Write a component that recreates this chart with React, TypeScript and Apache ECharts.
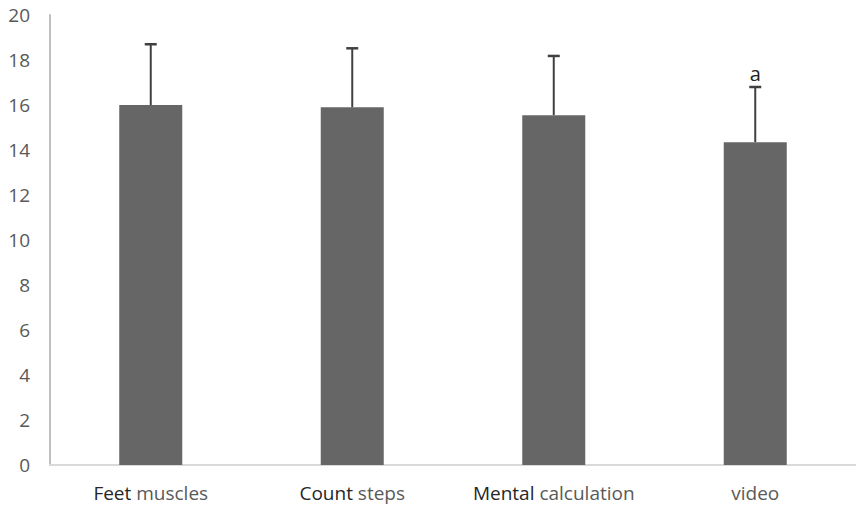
import React, { useEffect, useRef } from "react";
import * as echarts from "echarts";

const categories = ["Feet muscles", "Count steps", "Mental calculation", "video"];
const means = [16.0, 15.9, 15.55, 14.35];
const errorTops = [18.7, 18.52, 18.18, 16.8];
const annotations = ["", "", "", "a"];
const yTicks = { min: 0, max: 20, interval: 2 };

export default function App() {
  const ref = useRef<HTMLDivElement>(null);
  useEffect(() => {
    if (!ref.current) return;
    const chart = echarts.init(ref.current, null, { renderer: "svg" });
    const font = "'Open Sans', 'Noto Sans', sans-serif";
    chart.setOption({
      animation: false,
      grid: { left: 50, right: 0, top: 15, bottom: 42, containLabel: false },
      xAxis: {
        type: "category",
        data: categories,
        axisLine: { lineStyle: { color: "#d9d9d9", width: 2 } },
        axisTick: { show: false },
        axisLabel: {
          interval: 0,
          margin: 18,
          fontSize: 19,
          color: "#595959",
          fontFamily: font,
          formatter: (v: string) => {
            const i = v.indexOf(" ");
            if (i < 0) return "{n|" + v + "}";
            return "{b|" + v.slice(0, i) + "}{n|" + v.slice(i) + "}";
          },
          rich: {
            b: { fontSize: 19, color: "#262626", fontFamily: font },
            n: { fontSize: 19, color: "#595959", fontFamily: font },
          },
        },
      },
      yAxis: {
        type: "value",
        min: yTicks.min,
        max: yTicks.max,
        interval: yTicks.interval,
        axisLine: { show: true, lineStyle: { color: "#bfbfbf", width: 2 } },
        axisTick: { show: false },
        splitLine: { show: false },
        axisLabel: { margin: 20, fontSize: 19, color: "#595959", fontFamily: font },
      },
      series: [
        {
          type: "bar",
          data: means,
          barWidth: 63,
          itemStyle: { color: "#666666" },
        },
        {
          type: "custom",
          data: categories.map((_, i) => [i, means[i], errorTops[i]]),
          renderItem: (params: any, api: any) => {
            const i = api.value(0);
            const base = api.coord([i, api.value(1)]);
            const top = api.coord([i, api.value(2)]);
            const children: any[] = [
              {
                type: "line",
                shape: { x1: base[0], y1: base[1], x2: top[0], y2: top[1] },
                style: { stroke: "#404040", lineWidth: 2 },
              },
              {
                type: "line",
                shape: { x1: top[0] - 6, y1: top[1], x2: top[0] + 6, y2: top[1] },
                style: { stroke: "#404040", lineWidth: 2.5 },
              },
            ];
            const ann = annotations[params.dataIndex];
            if (ann) {
              children.push({
                type: "text",
                x: top[0],
                y: top[1] - 4,
                style: {
                  text: ann,
                  fill: "#222",
                  fontSize: 20,
                  fontFamily: font,
                  align: "center",
                  verticalAlign: "bottom",
                },
              });
            }
            return { type: "group", children };
          },
          z: 3,
        },
      ],
    });
    return () => chart.dispose();
  }, []);
  return <div ref={ref} style={{ width: 856, height: 507, position: "absolute", left: 0, top: 0, background: "#fff" }} />;
}
